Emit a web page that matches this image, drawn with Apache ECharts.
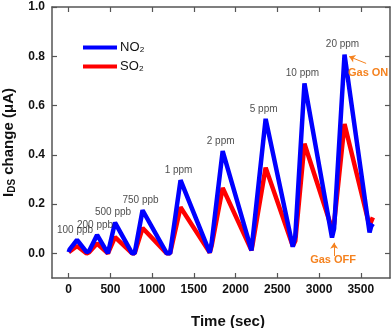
<!DOCTYPE html>
<html>
<head>
<meta charset="utf-8">
<script src="https://cdn.jsdelivr.net/npm/echarts@6/dist/echarts.min.js"></script>
<style>
html, body { margin: 0; padding: 0; background: #fff; }
#chart { width: 392px; height: 328px; }
</style>
</head>
<body>
<div id="chart"></div>
<script>
// time stamps (sec) and current change (uA)
const timeSec = [0, 10, 100, 215, 245, 340, 470, 490, 555, 760, 790, 885, 1175, 1215, 1340, 1690, 1712, 1845, 2190, 2205, 2360, 2685, 2715, 2825, 3155, 3180, 3305, 3605, 3625, 3645]
const no2 = [0.005, 0.015, 0.055, 0.005, 0.01, 0.075, 0.0, 0.005, 0.125, 0.0, 0.0, 0.175, 0.0, 0.0, 0.297, 0.003, 0.04, 0.415, 0.012, 0.06, 0.546, 0.027, 0.07, 0.69, 0.064, 0.10, 0.807, 0.085, 0.11, 0.12]
const so2 = [0.005, 0.01, 0.03, 0.0, 0.005, 0.04, 0.0, 0.0, 0.066, 0.0, 0.0, 0.103, 0.0, 0.0, 0.187, 0.003, 0.03, 0.266, 0.012, 0.04, 0.348, 0.03, 0.05, 0.445, 0.1, 0.12, 0.525, 0.11, 0.13, 0.146]
const peakIdx = [2, 5, 8, 11, 14, 17, 20, 23, 26]
const concLabels = ['100 ppb', '200 ppb', '500 ppb', '750 ppb', '1 ppm', '2 ppm', '5 ppm', '10 ppm', '20 ppm']
const xTicks = [0, 500, 1000, 1500, 2000, 2500, 3000, 3500]
const yTicks = [0, 0.2, 0.4, 0.6, 0.8, 1.0]

const axisColor = '#555'
const orange = '#f5821f'

const chart = echarts.init(document.getElementById('chart'))

function pairs (vals) {
  return timeSec.map((t, i) => [t, vals[i]])
}

function xAxisCfg (pos, showLabel) {
  return {
    type: 'value',
    position: pos,
    min: -200,
    max: 3850,
    axisLine: { show: true, onZero: false, lineStyle: { color: axisColor, width: 1.5 } },
    axisTick: { show: true, inside: true, length: 5, customValues: xTicks, lineStyle: { color: axisColor, width: 1.2 } },
    axisLabel: { show: showLabel, customValues: xTicks, margin: 6, color: '#111', fontSize: 12, fontWeight: 'bold', fontFamily: 'Liberation Sans', formatter: v => String(v) },
    splitLine: { show: false }
  }
}

function yAxisCfg (pos, showLabel) {
  return {
    type: 'value',
    position: pos,
    min: -0.1,
    max: 1.0,
    axisLine: { show: true, onZero: false, lineStyle: { color: axisColor, width: 1.5 } },
    axisTick: { show: true, inside: true, length: 5, customValues: yTicks, lineStyle: { color: axisColor, width: 1.2 } },
    axisLabel: { show: showLabel, customValues: yTicks, margin: 7, color: '#111', fontSize: 12, fontWeight: 'bold', fontFamily: 'Liberation Sans', formatter: v => v.toFixed(1) },
    splitLine: { show: false }
  }
}

const xBottom = xAxisCfg('bottom', true)
xBottom.name = 'Time (sec)'
xBottom.nameLocation = 'middle'
xBottom.nameGap = 36
xBottom.nameTextStyle = { fontSize: 15, fontWeight: 'bold', color: '#111', fontFamily: 'Liberation Sans', padding: [0, 0, 0, 14] }

const yLeft = yAxisCfg('left', true)
yLeft.name = '{b|I}{sub|DS}{b| change (μA)}'
yLeft.nameLocation = 'middle'
yLeft.nameGap = 34
yLeft.nameTextStyle = {
  rich: {
    b: { fontSize: 15, fontWeight: 'bold', color: '#111', fontFamily: 'Liberation Sans' },
    sub: { fontSize: 10, fontWeight: 'bold', color: '#111', fontFamily: 'Liberation Sans', verticalAlign: 'bottom', padding: [8, 0, 0, 0] }
  }
}

chart.setOption({
  animation: false,
  grid: { left: 52, top: 7, right: 2, bottom: 50, outerBoundsMode: 'none' },
  legend: {
    data: ['NO₂', 'SO₂'],
    orient: 'vertical',
    left: 83,
    top: 41,
    padding: 0,
    icon: 'rect',
    itemWidth: 34,
    itemHeight: 4,
    itemGap: 6,
    textStyle: { fontSize: 13, color: '#111', fontFamily: 'Liberation Sans', padding: [0, 0, 0, -2] }
  },
  xAxis: [xBottom, xAxisCfg('top', false)],
  yAxis: [yLeft, yAxisCfg('right', false)],
  series: [
    {
      name: 'SO₂',
      type: 'line',
      data: pairs(so2),
      symbol: 'none',
      color: '#ff0000',
      lineStyle: { color: '#ff0000', width: 4.5 },
      z: 2
    },
    {
      name: 'NO₂',
      type: 'line',
      data: pairs(no2),
      symbol: 'none',
      color: '#0000ff',
      lineStyle: { color: '#0000ff', width: 4.5 },
      z: 3
    },
    {
      // concentration labels above each NO2 peak
      name: 'conc',
      type: 'scatter',
      data: peakIdx.map(i => [timeSec[i], no2[i]]),
      symbolSize: 0,
      silent: true,
      label: {
        show: true,
        position: 'top',
        distance: 5,
        offset: [-2, 0],
        formatter: p => concLabels[p.dataIndex],
        fontSize: 10,
        color: '#222',
        fontFamily: 'Liberation Sans'
      },
      z: 4
    },
    {
      name: 'annot',
      type: 'scatter',
      data: [],
      silent: true,
      markLine: {
        silent: true,
        symbol: ['none', 'arrow'],
        symbolSize: 6,
        lineStyle: { color: orange, width: 1, type: 'solid' },
        label: { show: false },
        data: [
          [{ coord: [3564, 0.771] }, { coord: [3360, 0.799] }],
          [{ coord: [3180, -0.011] }, { coord: [3180, 0.043] }]
        ]
      },
      markPoint: {
        silent: true,
        symbolSize: 0,
        label: { show: true, position: 'inside', formatter: '{b}', color: orange, fontSize: 11, fontWeight: 'bold', fontFamily: 'Liberation Sans' },
        data: [
          { name: 'Gas ON', coord: [3588, 0.734] },
          { name: 'Gas OFF', coord: [3168, -0.028] }
        ]
      }
    }
  ]
})
</script>
</body>
</html>
